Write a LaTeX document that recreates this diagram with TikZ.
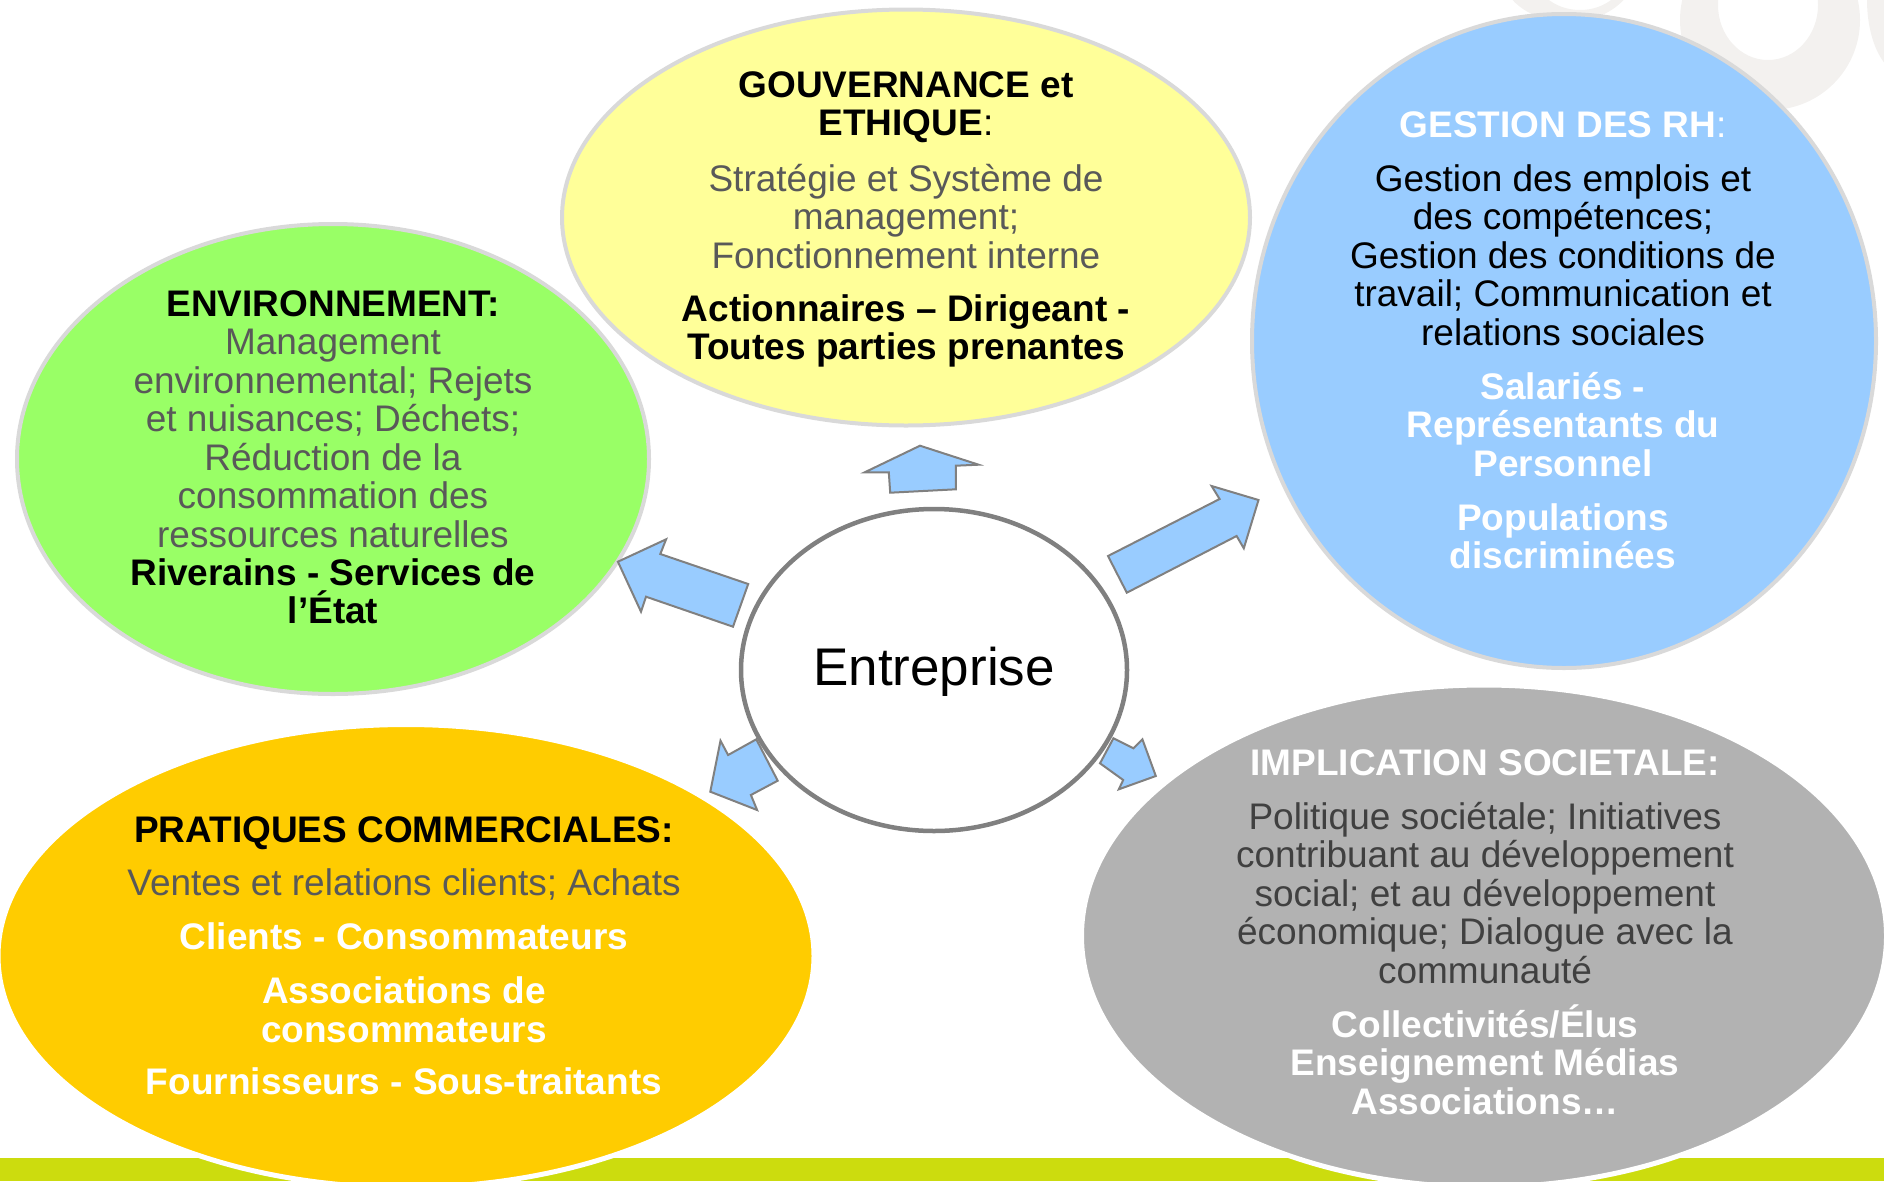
\documentclass[tikz,border=0pt]{standalone}
\usepackage{fontspec}
\setmainfont{Liberation Sans}
\usetikzlibrary{shapes.geometric}
\definecolor{cgreen}{HTML}{99FF66}
\definecolor{cyellow}{HTML}{FFFF99}
\definecolor{cblue}{HTML}{99CCFF}
\definecolor{corange}{HTML}{FFCC00}
\definecolor{cgray}{HTML}{B2B2B2}
\definecolor{cborder}{HTML}{D9D9D9}
\definecolor{ctext}{HTML}{595959}
\definecolor{cdark}{HTML}{404040}
\definecolor{cbar}{HTML}{CCDC0E}
\definecolor{cwater}{HTML}{F3F1EF}
\definecolor{cline}{HTML}{808080}
\begin{document}
\begin{tikzpicture}[x=1pt,y=-1pt,
  bubble/.style={ellipse, inner sep=0pt, line width=4pt},
  txt/.style={font=\fontsize{37}{38}\selectfont, anchor=mid, inner sep=0pt},
  bld/.style={font=\fontsize{37}{38}\selectfont\bfseries, anchor=mid, inner sep=0pt},
  blockarrow/.style={fill=cblue, draw=cline, line width=2pt, line join=miter}
]
\useasboundingbox (0,0) rectangle (1884,1181);
\clip (0,0) rectangle (1884,1181);
% watermark
\fill[cwater, even odd rule] (1770,20) ellipse [x radius=90, y radius=90] (1768,5) ellipse [x radius=50, y radius=55];
\fill[cwater, even odd rule] (1568,-30) ellipse [x radius=68, y radius=52] (1580,-30) ellipse [x radius=47, y radius=40];
\fill[cwater] (1905,0) ellipse [x radius=38, y radius=75];
% bottom bar
\fill[cbar] (0,1158) rectangle (1884,1181);
% bubbles
\node[bubble, fill=cgreen, draw=cborder, minimum width=632pt, minimum height=470pt] (env) at (333,459) {};
\node[bubble, fill=cyellow, draw=cborder, minimum width=688pt, minimum height=416pt] (gov) at (906,217.5) {};
\node[bubble, fill=cblue, draw=cborder, minimum width=624pt, minimum height=654pt] (rh) at (1564,341) {};
\node[bubble, fill=corange, draw=white, line width=5pt, minimum width=816pt, minimum height=463pt] (com) at (406,956) {};
\node[bubble, fill=cgray, draw=white, line width=5pt, minimum width=805pt, minimum height=502pt] (soc) at (1484,936) {};
% block arrows
\draw[blockarrow] (920,445.7) -- (978.6,464.7) -- (955.8,465.7) -- (955.8,489.3) -- (890.2,492.7) -- (888.8,472.3) -- (864.7,472.3) -- cycle;
\draw[blockarrow] (1108,556) -- (1219.6,499) -- (1211.6,486) -- (1258.5,500) -- (1243.8,548.3) -- (1236.6,536) -- (1126.8,592.7) -- cycle;
\draw[blockarrow] (617.9,561.7) -- (666.1,539.3) -- (660.3,554) -- (748.2,584) -- (733,626.7) -- (646,596.7) -- (641,611.7) -- cycle;
\draw[blockarrow] (710.3,791.7) -- (720.5,740.7) -- (728.1,755) -- (756.3,739.3) -- (777.7,780.7) -- (750.9,795) -- (757.1,810) -- cycle;
\draw[blockarrow] (1113.4,738.3) -- (1133.5,748.3) -- (1142.4,739.3) -- (1155.8,776) -- (1118.8,789.3) -- (1123.2,780) -- (1100,763.3) -- cycle;
% centre
\node[ellipse, inner sep=0pt, fill=white, draw=cline, line width=4.5pt, minimum width=386pt, minimum height=322pt] (ent) at (934,670) {};
\node[font=\fontsize{53}{55}\selectfont, anchor=mid, inner sep=0pt] (ent-t) at (934,683) {Entreprise};
% environnement
\begin{scope}[yshift=-11pt]
\node[bld] (env-1) at (333,303) {ENVIRONNEMENT:};
\node[txt, text=ctext] (env-2) at (333,341) {Management};
\node[txt, text=ctext] (env-3) at (333,380) {environnemental; Rejets};
\node[txt, text=ctext] (env-4) at (333,418) {et nuisances; Déchets;};
\node[txt, text=ctext] (env-5) at (333,457) {Réduction de la};
\node[txt, text=ctext] (env-6) at (333,495) {consommation des};
\node[txt, text=ctext] (env-7) at (333,533.5) {ressources naturelles};
\node[bld] (env-8) at (333,572) {Riverains - Services de};
\node[bld] (env-9) at (333,610) {l’État};
% gouvernance
\node[bld] (gov-1) at (906,84) {GOUVERNANCE et};
\node[txt] (gov-2) at (906,121.4) {\textbf{ETHIQUE}:};
\node[txt, text=ctext] (gov-3) at (906,177.8) {Stratégie et Système de};
\node[txt, text=ctext] (gov-4) at (906,216.3) {management;};
\node[txt, text=ctext] (gov-5) at (906,254.7) {Fonctionnement interne};
\node[bld] (gov-6) at (906,307.6) {Actionnaires – Dirigeant -};
\node[bld] (gov-7) at (906,346) {Toutes parties prenantes};
% RH
\node[txt, text=white] (rh-1) at (1563,123.8) {\textbf{GESTION DES RH}:};
\node[txt] (rh-2) at (1563,177.8) {Gestion des emplois et};
\node[txt] (rh-3) at (1563,216.3) {des compétences;};
\node[txt] (rh-4) at (1563,254.7) {Gestion des conditions de};
\node[txt] (rh-5) at (1563,293.2) {travail; Communication et};
\node[txt] (rh-6) at (1563,331.6) {relations sociales};
\node[bld, text=white] (rh-7) at (1563,385.7) {Salariés -};
\node[bld, text=white] (rh-8) at (1563,424.1) {Représentants du};
\node[bld, text=white] (rh-9) at (1563,462.6) {Personnel};
\node[bld, text=white] (rh-10) at (1563,516.6) {Populations};
\node[bld, text=white] (rh-11) at (1563,555) {discriminées};
% commerciales
\node[bld] (com-1) at (404,829) {PRATIQUES COMMERCIALES:};
\node[txt, text=ctext] (com-2) at (404,882) {Ventes et relations clients; Achats};
\node[bld, text=white] (com-3) at (404,936) {Clients - Consommateurs};
\node[bld, text=white] (com-4) at (404,990) {Associations de};
\node[bld, text=white] (com-5) at (404,1028.5) {consommateurs};
\node[bld, text=white] (com-6) at (404,1081) {Fournisseurs - Sous-traitants};
% societale
\node[bld, text=white] (soc-1) at (1485,761.8) {IMPLICATION SOCIETALE:};
\node[txt, text=cdark] (soc-2) at (1485,815.8) {Politique sociétale; Initiatives};
\node[txt, text=cdark] (soc-3) at (1485,854.3) {contribuant au développement};
\node[txt, text=cdark] (soc-4) at (1485,892.7) {social; et au développement};
\node[txt, text=cdark] (soc-5) at (1485,931.2) {économique; Dialogue avec la};
\node[txt, text=cdark] (soc-6) at (1485,969.6) {communauté};
\node[bld, text=white] (soc-7) at (1485,1023.7) {Collectivités/Élus};
\node[bld, text=white] (soc-8) at (1485,1062) {Enseignement Médias};
\node[bld, text=white] (soc-9) at (1485,1100.6) {Associations…};
\end{scope}
\end{tikzpicture}
\end{document}
